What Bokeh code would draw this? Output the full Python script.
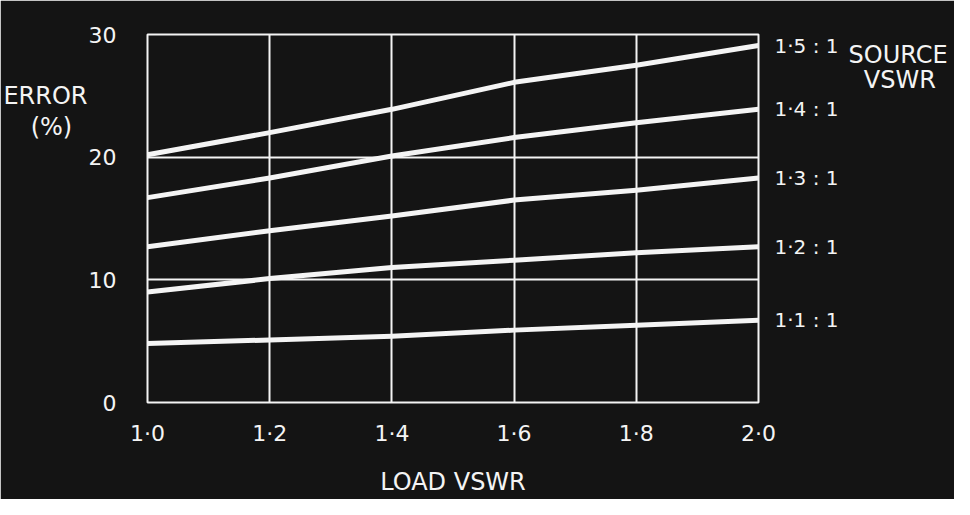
from bokeh.plotting import figure
from bokeh.models import Range1d, FixedTicker, LinearAxis
from bokeh.embed import file_html
from bokeh.resources import INLINE

# ---- data ----
load_vswr = [1.0, 1.2, 1.4, 1.6, 1.8, 2.0]
err_11 = [4.8, 5.1, 5.4, 5.9, 6.3, 6.7]
err_12 = [9.0, 10.1, 11.0, 11.6, 12.2, 12.7]
err_13 = [12.7, 14.0, 15.2, 16.5, 17.3, 18.3]
err_14 = [16.7, 18.3, 20.1, 21.6, 22.8, 23.9]
err_15 = [20.2, 22.0, 23.9, 26.1, 27.5, 29.1]
series = [err_11, err_12, err_13, err_14, err_15]
series_labels = ["1·1 : 1", "1·2 : 1", "1·3 : 1", "1·4 : 1", "1·5 : 1"]
x_ticks = [1.0, 1.2, 1.4, 1.6, 1.8, 2.0]
x_tick_labels = ["1·0", "1·2", "1·4", "1·6", "1·8", "2·0"]
y_ticks = [0, 10, 20, 30]
y_title_lines = ["ERROR", "(%)\u00a0\u00a0"]
y_title_pos = [25.0, 22.5]
legend_title_lines = ["SOURCE", "\u00a0\u00a0VSWR"]
legend_title_pos = [28.3, 26.3]

BG = "#141414"
FG = "#f4f4f4"
FONT = "DejaVu Sans"


def style_axis(ax, size, standoff):
    ax.axis_line_color = None
    ax.major_tick_line_color = None
    ax.minor_tick_line_color = None
    ax.major_label_text_color = FG
    ax.major_label_text_font = FONT
    ax.major_label_text_font_size = size
    ax.major_label_standoff = standoff


p = figure(width=954, height=499, output_backend="svg", toolbar_location=None,
           x_range=Range1d(1.0, 2.0), y_range=Range1d(0, 30),
           min_border_left=147, min_border_right=196, min_border_top=34, min_border_bottom=97)
p.background_fill_color = BG
p.border_fill_color = BG
p.outline_line_color = FG
p.outline_line_width = 2

p.xaxis.ticker = FixedTicker(ticks=x_ticks)
p.xaxis.major_label_overrides = {t: s for t, s in zip(x_ticks, x_tick_labels)}
p.yaxis.ticker = FixedTicker(ticks=y_ticks)
style_axis(p.xaxis[0], "22px", 12)
style_axis(p.yaxis[0], "22px", 25)
p.xaxis.axis_label = "LOAD VSWR"
p.xaxis.axis_label_text_color = FG
p.xaxis.axis_label_text_font = FONT
p.xaxis.axis_label_text_font_size = "24px"
p.xaxis.axis_label_text_font_style = "normal"
p.xaxis.axis_label_standoff = 19

# y title as an outer left axis
ytitle_ax = LinearAxis(ticker=FixedTicker(ticks=y_title_pos),
                       major_label_overrides={t: s for t, s in zip(y_title_pos, y_title_lines)})
style_axis(ytitle_ax, "24px", -8)
p.add_layout(ytitle_ax, "left")

# series labels on a right axis
ends = [ys[-1] for ys in series]
lab_ax = LinearAxis(ticker=FixedTicker(ticks=ends),
                    major_label_overrides={t: s for t, s in zip(ends, series_labels)})
style_axis(lab_ax, "20px", 10)
p.add_layout(lab_ax, "right")

# "SOURCE VSWR" on an outer right axis
src_ax = LinearAxis(ticker=FixedTicker(ticks=legend_title_pos),
                    major_label_overrides={t: s for t, s in zip(legend_title_pos, legend_title_lines)})
style_axis(src_ax, "24px", 1)
p.add_layout(src_ax, "right")

p.xgrid.ticker = FixedTicker(ticks=x_ticks[1:-1])
p.ygrid.ticker = FixedTicker(ticks=y_ticks[1:-1])
p.grid.grid_line_color = FG
p.grid.grid_line_width = 2
p.grid.grid_line_alpha = 1.0

for ys in series:
    p.line(load_vswr, ys, line_color=FG, line_width=5, line_cap="round", line_join="round")

open("out.html", "w").write(file_html(p, INLINE))
